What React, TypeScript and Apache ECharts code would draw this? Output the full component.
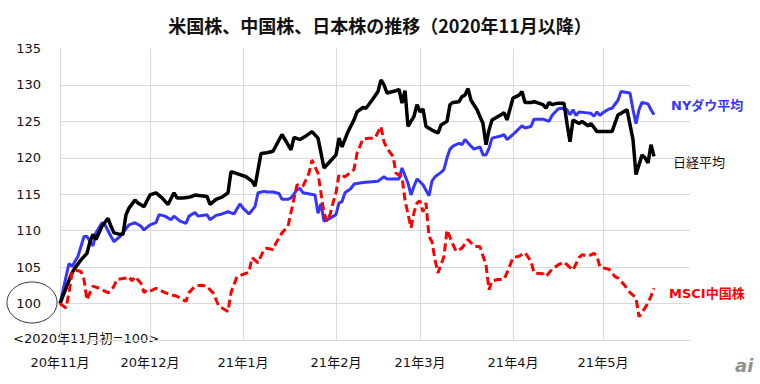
import React, { useEffect, useRef } from "react";
import * as echarts from "echarts";

const TITLE = "米国株、中国株、日本株の推移（2020年11月以降）";
const START_DATE = "2020-11-01";
const DAY_COUNT = 211;
const Y_MIN = 95;
const Y_MAX = 135;
const Y_STEP = 5;

// day offsets (days since 2020-11-01) and index values
const NY_DAYS = [0,3,4,6,8,9,11,12,14,15,17,18,20,23,25,27,28,30,32,33,35,37,38,40,42,43,45,46,49,50,52,54,56,58,60,61,63,65,66,68,69,71,73,74,76,77,79,80,81,85,86,87,88,90,92,93,94,95,97,98,101,106,108,109,113,114,116,117,118,119,121,123,124,125,127,128,129,130,131,133,134,135,137,138,140,141,142,143,144,147,148,149,151,152,154,155,157,158,161,163,164,166,167,169,170,171,172,173,175,177,178,179,180,181,183,184,186,187,190,191,192,193,194,196,197,198];
const NY_VALUES = [100,105.5,105.1,106.5,109.2,109.2,107.9,109.7,111.1,110.8,109.2,108.5,109.2,110.8,111.1,110.6,110.1,110.8,111.1,112.2,112.0,111.5,112.0,111.3,111.0,112.0,112.5,112.0,112.2,111.5,112.1,112.3,112.6,112.3,113.7,113.1,112.3,113.3,115.2,115.4,115.3,115.3,115.1,114.3,114.3,114.5,115.6,115.8,115.2,114.9,112.4,113.7,111.3,111.7,112.2,113.8,114.0,115.2,115.8,116.4,116.6,116.8,117.4,117.1,117.1,118.6,116.5,114.9,116.1,117.1,116.3,114.8,116.8,117.4,118.0,118.4,120.0,121.2,121.6,122.0,121.8,122.5,121.6,121.2,121.5,120.4,120.4,121.3,122.7,123.0,123.2,122.5,123.2,123.6,124.4,124.1,124.3,125.3,125.3,125.0,125.8,126.7,126.8,126.6,125.9,126.6,125.8,126.3,126.2,126.1,125.7,126.3,125.8,126.2,126.7,126.8,127.9,129.1,128.9,126.6,124.7,126.6,127.6,127.4,126.6,125.9];

const NIKKEI_DAYS = [0,4,5,7,9,10,11,12,14,16,17,18,20,21,22,23,25,26,28,30,32,34,36,38,39,41,43,44,45,47,49,50,52,54,56,57,60,62,64,65,67,69,71,74,76,77,78,80,82,84,86,88,90,92,93,94,96,98,99,101,102,104,106,107,108,109,112,113,114,115,116,118,119,120,121,122,124,126,127,129,130,131,133,134,135,136,137,139,141,142,143,144,147,148,149,151,153,154,155,157,158,161,162,163,164,166,168,169,170,171,173,174,176,177,179,184,186,187,189,191,192,194,195,196,197,198];
const NIKKEI_VALUES = [100,104.2,104.9,106.0,106.9,108.5,109.5,108.8,110.6,111.7,110.6,109.7,109.5,109.5,112.2,113.1,114.2,113.8,113.3,114.9,115.2,114.5,113.6,115.2,114.5,114.5,114.6,114.7,114.9,114.8,114.7,113.6,114.3,114.6,115.2,118.1,117.7,117.4,116.8,116.1,120.6,120.7,120.9,123.2,121.8,121.1,122.8,122.5,123.0,123.6,122.7,118.6,119.5,120.4,122.7,121.5,123.6,125.2,126.3,126.9,126.8,127.9,129.1,130.7,130.0,128.9,129.2,129.4,127.5,129.2,124.3,125.7,127.3,126.3,126.7,124.3,123.8,123.4,124.5,125.0,127.3,127.6,127.7,128.4,128.6,129.5,127.9,126.6,124.7,121.8,123.8,125.2,125.9,126.2,125.2,128.2,128.6,129.1,127.6,127.6,127.7,127.3,126.8,127.6,127.3,127.5,127.5,124.7,122.2,125.2,124.7,125.0,124.4,124.7,123.6,123.6,125.9,126.1,126.6,122.5,117.7,120.4,120.0,119.3,121.8,120.2];

const MSCI_DAYS = [0,2,3,4,5,7,8,9,10,11,13,16,17,18,19,22,23,24,25,27,28,29,30,32,33,35,37,39,41,42,43,45,47,49,50,51,53,54,56,57,59,61,63,64,66,68,69,71,72,74,76,77,79,81,83,84,86,87,88,89,90,91,92,93,95,98,99,101,103,105,107,108,109,111,112,114,115,117,118,119,120,121,122,123,124,125,126,128,129,131,132,134,136,138,140,142,143,144,146,148,149,151,153,155,157,158,161,162,164,166,168,171,173,174,176,178,179,180,183,185,186,188,190,192,193,195,196,197,198];
const MSCI_VALUES = [100,99.4,101.5,104.2,104.6,104.4,103.3,100.5,101.5,102.4,102.1,101.5,101.7,102.4,103.3,103.5,103.7,103.1,103.7,102.8,101.5,101.9,101.7,102.1,101.9,101.5,101.2,101.0,100.5,100.3,101.5,102.4,102.5,102.4,101.9,101.5,99.6,99.4,98.9,101.5,103.7,104.0,104.3,106.3,105.6,107.4,107.6,107.4,108.3,109.7,110.6,112.5,116.3,116.1,117.9,119.7,117.9,115.2,112.4,111.3,112.2,113.8,115.2,117.7,117.4,118.4,120.6,122.6,122.7,122.7,124.3,122.2,121.3,120.2,117.9,117.4,114.2,110.4,112.5,113.8,114.1,112.6,113.8,109.2,108.5,106.0,104.2,106.5,110.1,108.1,107.2,107.6,108.8,107.9,107.8,105.3,101.9,103.1,103.3,103.3,104.2,106.3,106.5,107.0,105.8,104.2,104.1,103.7,104.7,105.3,105.7,104.6,106.3,106.7,106.5,106.9,106.5,105.0,104.7,103.7,103.5,102.6,101.5,100.8,98.2,99.4,100.1,101.0,102.1];

const SERIES_NAMES = ["NYダウ平均", "日経平均", "MSCI中国株"];
const BASE_NOTE = "<2020年11月初=100>";

const FONT = "'DejaVu Sans', 'Noto Sans CJK JP', sans-serif";
const CJK_FONT = "'Noto Sans CJK JP', 'DejaVu Sans', sans-serif";

function buildDates(): string[] {
  const out: string[] = [];
  const [y, m, d] = START_DATE.split("-").map(Number);
  const t0 = Date.UTC(y, m - 1, d);
  for (let i = 0; i < DAY_COUNT; i++) {
    const dt = new Date(t0 + i * 86400000);
    const mm = String(dt.getUTCMonth() + 1).padStart(2, "0");
    const dd = String(dt.getUTCDate()).padStart(2, "0");
    out.push(`${dt.getUTCFullYear()}-${mm}-${dd}`);
  }
  return out;
}

const zip = (days: number[], vals: number[]) => days.map((d, i) => [d, vals[i]]);

export default function App() {
  const ref = useRef<HTMLDivElement>(null);
  useEffect(() => {
    if (!ref.current) return;
    const chart = echarts.init(ref.current, null, { renderer: "svg" });
    const dates = buildDates();
    const isMonthStart = (_i: number, v: string) => v.endsWith("-01");
    chart.setOption({
      animation: false,
      backgroundColor: "#ffffff",
      title: {
        text: TITLE,
        left: "center",
        top: 11,
        textStyle: { fontFamily: CJK_FONT, fontSize: 18, fontWeight: "bold", color: "#111" },
      },
      grid: { left: 60, right: 70, top: 48.5, bottom: 44 },
      xAxis: {
        type: "category",
        data: dates,
        boundaryGap: false,
        axisLine: { lineStyle: { color: "#d9d9d9", width: 1 } },
        axisTick: { show: false },
        splitLine: { show: true, interval: isMonthStart, lineStyle: { color: "#d9d9d9", width: 1 } },
        axisLabel: {
          interval: isMonthStart,
          margin: 16,
          fontFamily: FONT,
          fontSize: 13,
          color: "#111",
          formatter: (v: string) => {
            const [yy, mm] = v.split("-");
            return `${yy.slice(2)}年${Number(mm)}月`;
          },
        },
      },
      yAxis: {
        type: "value",
        min: Y_MIN,
        max: Y_MAX,
        interval: Y_STEP,
        axisLine: { show: false },
        axisTick: { show: false },
        splitLine: { show: true, showMaxLine: false, showMinLine: false, lineStyle: { color: "#d9d9d9", width: 1 } },
        axisLabel: {
          margin: 19,
          fontFamily: FONT,
          fontSize: 13,
          color: "#111",
          formatter: (v: number) => (v === Y_MIN ? "" : String(v)),
        },
      },
      series: [
        {
          name: SERIES_NAMES[0],
          type: "line",
          data: zip(NY_DAYS, NY_VALUES),
          showSymbol: false,
          symbol: "none",
          lineStyle: { color: "#3535ff", width: 3 },
          z: 2,
        },
        {
          name: SERIES_NAMES[1],
          type: "line",
          data: zip(NIKKEI_DAYS, NIKKEI_VALUES),
          showSymbol: false,
          symbol: "none",
          lineStyle: { color: "#000000", width: 3.5 },
          z: 3,
        },
        {
          name: SERIES_NAMES[2],
          type: "line",
          data: zip(MSCI_DAYS, MSCI_VALUES),
          showSymbol: false,
          symbol: "none",
          lineStyle: { color: "#ff0000", width: 3, type: [8, 4] },
          z: 4,
        },
      ],
      graphic: [
        {
          type: "ellipse",
          shape: { cx: 32, cy: 302.5, rx: 25, ry: 20.5 },
          style: { fill: "none", stroke: "#333", lineWidth: 1 },
        },
        {
          type: "rect",
          shape: { x: 0, y: 330, width: 175, height: 18 },
          style: { fill: "#ffffff" },
        },
        {
          type: "text",
          x: 13,
          y: 338,
          style: { text: BASE_NOTE, fontFamily: FONT, fontSize: 13, fill: "#111", verticalAlign: "middle" },
        },
        {
          type: "text",
          x: 671,
          y: 105,
          style: { text: SERIES_NAMES[0], fontFamily: FONT, fontSize: 13, fontWeight: "bold", fill: "#3535ff", verticalAlign: "middle" },
        },
        {
          type: "text",
          x: 673,
          y: 161,
          style: { text: SERIES_NAMES[1], fontFamily: CJK_FONT, fontSize: 13, fill: "#111", verticalAlign: "middle" },
        },
        {
          type: "text",
          x: 669,
          y: 293,
          style: { text: SERIES_NAMES[2], fontFamily: FONT, fontSize: 13, fontWeight: "bold", fill: "#ff0000", verticalAlign: "middle" },
        },
        {
          type: "text",
          x: 735,
          y: 356,
          style: { text: "ai", fontFamily: "'DejaVu Sans', sans-serif", fontSize: 18, fontWeight: "bold", fontStyle: "italic", fill: "#8f8f8f" },
        },
      ],
    });
    return () => chart.dispose();
  }, []);
  return <div ref={ref} style={{ position: "fixed", left: 0, top: 0, width: 760, height: 384 }} />;
}
